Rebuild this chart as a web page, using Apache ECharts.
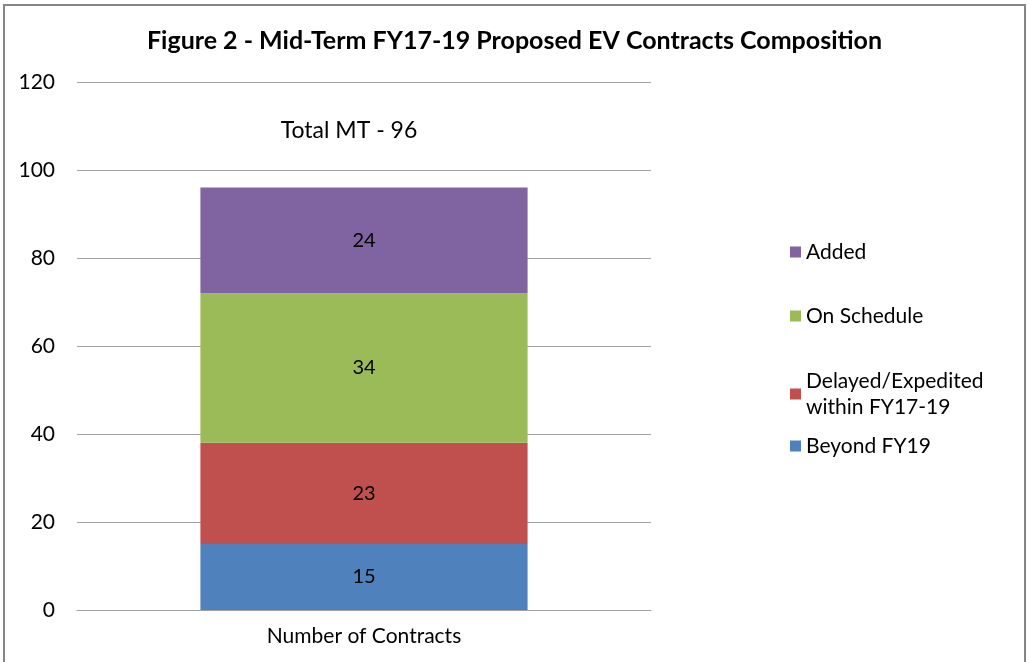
<!DOCTYPE html>
<html><head><meta charset="utf-8">
<script src="https://cdn.jsdelivr.net/npm/echarts@6/dist/echarts.min.js"></script>
<style>html,body{margin:0;padding:0;background:#fff}#c{width:1029px;height:662px}</style>
</head><body><div id="c"></div>
<script>
const categories = ['Number of Contracts'];
const seriesNames = ['Beyond FY19', 'Delayed/Expedited\nwithin FY17-19', 'On Schedule', 'Added'];
const beyondFY19 = [15];
const delayedExpedited = [23];
const onSchedule = [34];
const added = [24];
const yTicks = [0, 20, 40, 60, 80, 100, 120];
const colors = ['#4F81BD', '#C0504D', '#9BBB59', '#8064A2'];
const values = [beyondFY19, delayedExpedited, onSchedule, added];
const total = values.reduce((s, v) => s + v[0], 0);
const FONT = 'Lato';

const chart = echarts.init(document.getElementById('c'));
const legendTops = [433, 368, 303, 239];
chart.setOption({
  animation: false,
  textStyle: { fontFamily: FONT },
  title: [
    { text: 'Figure 2 - Mid-Term FY17-19 Proposed EV Contracts Composition', left: 'center', top: 23,
      textStyle: { fontFamily: FONT, fontWeight: 'bold', fontSize: 25, color: '#000' } },
    { text: 'Total MT - ' + total, left: 344, textAlign: 'center', top: 114,
      textStyle: { fontFamily: FONT, fontWeight: 'normal', fontSize: 23, color: '#000' } }
  ],
  graphic: [{ type: 'rect', shape: { x: 4, y: 5, width: 1021, height: 700 }, style: { fill: 'none', stroke: '#868686', lineWidth: 2 }, silent: true }],
  legend: seriesNames.map((n, i) => ({
    data: [n], left: 790, top: legendTops[i], orient: 'vertical', itemWidth: 11, itemHeight: 11, itemGap: 8, padding: 0,
    icon: 'rect', textStyle: { fontFamily: FONT, fontSize: 21, color: '#000', lineHeight: 26 }, selectedMode: false
  })),
  grid: { left: 77, right: 378, top: 82, bottom: 52 },
  xAxis: { type: 'category', data: categories,
    axisLine: { lineStyle: { color: '#a0a0a0' } }, axisTick: { show: false },
    axisLabel: { fontFamily: FONT, fontSize: 21, color: '#000', margin: 16 } },
  yAxis: { type: 'value', min: yTicks[0], max: yTicks[yTicks.length - 1], interval: 20,
    axisLine: { show: false }, axisTick: { show: false },
    axisLabel: { fontFamily: FONT, fontSize: 21, color: '#000', margin: 22 },
    splitLine: { lineStyle: { color: '#a0a0a0', width: 1 } } },
  series: seriesNames.map((n, i) => ({
    name: n, type: 'bar', stack: 'total', data: values[i], barWidth: '57%',
    itemStyle: { color: colors[i] },
    label: { show: true, position: 'inside', fontFamily: FONT, fontSize: 20, color: '#000' }
  }))
});
</script></body></html>
